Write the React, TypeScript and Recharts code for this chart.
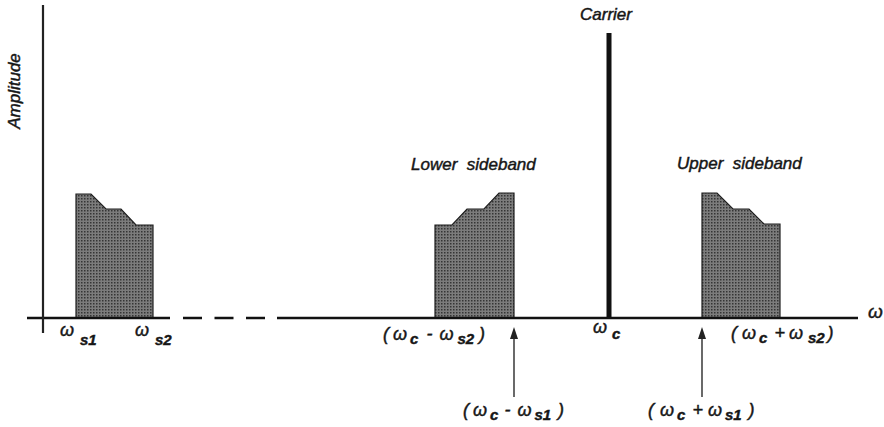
import { Area, ComposedChart, Line, ReferenceLine, Scatter, XAxis, YAxis } from 'recharts'

const W = 884
const H = 427
const FONT = '"Liberation Sans", Arial, Helvetica, sans-serif'
const INK = '#161616'

// frequency / amplitude in the picture's own units
const basebandFreq = [33, 33, 48, 63, 78, 93, 110, 110]
const basebandAmp = [0, 124, 124, 109, 109, 93, 93, 0]
const lowerFreq = [392, 392, 409, 424, 441, 456, 471, 471]
const lowerAmp = [0, 93, 93, 109, 109, 125, 125, 0]
const upperFreq = [659, 659, 674, 690, 706, 721, 737, 737]
const upperAmp = [0, 125, 125, 109, 109, 94, 94, 0]
const carrierFreq = 566
const carrierAmp = 285

// arrows pointing at (wc - ws1) and (wc + ws1)
const arrowFreqs = [471, 659]
const arrowTail = -79
const arrowTip = -9

// axis pieces: solid, broken (dashed), solid
const axisSolidLeft = [-16, 127]
const axisDashed = [140, 222]
const axisSolidRight = [234, 815]
const ampAxis = [-15, 313]

type Part = { t: string; sub?: boolean; dx?: number }

const freqLabels: { x: number; y: number; subDy: number; parts: Part[] }[] = [
  { x: 17, y: -18, subDy: 9, parts: [{ t: 'ω' }, { t: 's1', sub: true, dx: 6 }] },
  { x: 92, y: -18, subDy: 9, parts: [{ t: 'ω' }, { t: 's2', sub: true, dx: 6 }] },
  { x: 550, y: -15, subDy: 6, parts: [{ t: 'ω' }, { t: 'c', sub: true, dx: 5 }] },
  {
    x: 340, y: -22, subDy: 4,
    parts: [{ t: '(' }, { t: 'ω', dx: 4 }, { t: 'c', sub: true, dx: 3 }, { t: '-', dx: 8 }, { t: 'ω', dx: 7 }, { t: 's2', sub: true, dx: 4 }, { t: ')', dx: 5 }],
  },
  {
    x: 688, y: -21, subDy: 4,
    parts: [{ t: '(' }, { t: 'ω', dx: 5 }, { t: 'c', sub: true, dx: 3 }, { t: '+', dx: 7 }, { t: 'ω', dx: 4 }, { t: 's2', sub: true, dx: 5 }, { t: ')', dx: 3 }],
  },
  {
    x: 420, y: -98, subDy: 4,
    parts: [{ t: '(' }, { t: 'ω', dx: 4 }, { t: 'c', sub: true, dx: 3 }, { t: '-', dx: 6 }, { t: 'ω', dx: 7 }, { t: 's1', sub: true, dx: 3 }, { t: ')', dx: 7 }],
  },
  {
    x: 605, y: -98, subDy: 4,
    parts: [{ t: '(' }, { t: 'ω', dx: 6 }, { t: 'c', sub: true, dx: 3 }, { t: '+', dx: 7 }, { t: 'ω', dx: 5 }, { t: 's1', sub: true, dx: 3 }, { t: ')', dx: 7 }],
  },
]

const wordLabels = [
  { x: 537, y: 298, text: 'Carrier', rotate: false },
  { x: 368, y: 148, text: 'Lower  sideband', rotate: false },
  { x: 634, y: 149, text: 'Upper  sideband', rotate: false },
  { x: -23, y: 227, text: 'Amplitude', rotate: true },
]

const omegaAxisLabel = [{ x: 825, y: 0 }]

const toPoints = (xs: number[], ys: number[]) => xs.map((x, i) => ({ x, y: ys[i] }))

const baseband = toPoints(basebandFreq, basebandAmp)
const lowerBand = toPoints(lowerFreq, lowerAmp)
const upperBand = toPoints(upperFreq, upperAmp)
const carrier = toPoints([carrierFreq, carrierFreq], [0, carrierAmp])
const arrowShafts = arrowFreqs.map((f) => toPoints([f, f], [arrowTail, arrowTip - 8]))
const arrowHeads = arrowFreqs.map((f) => ({ x: f, y: arrowTip }))

// a thin outline on the glyphs gives the heavier look of the scanned lettering
const inkProps = { fill: INK, stroke: INK, strokeWidth: 0.45, fontFamily: FONT, fontStyle: 'italic' }

function FreqLabel(props: any) {
  const { cx, cy, payload } = props
  let shifted = false
  return (
    <text x={cx} y={cy} fontSize={18} {...inkProps}>
      {payload.parts.map((p: Part, i: number) => {
        let dy = 0
        if (p.sub && !shifted) {
          dy = payload.subDy
          shifted = true
        } else if (!p.sub && shifted) {
          dy = -payload.subDy
          shifted = false
        }
        return (
          <tspan key={i} dx={p.dx ?? 0} dy={dy} fontSize={p.sub ? 15 : 18} fontWeight={p.sub ? 'bold' : 'normal'}>
            {p.t}
          </tspan>
        )
      })}
    </text>
  )
}

function WordLabel(props: any) {
  const { cx, cy, payload } = props
  return (
    <text
      x={cx}
      y={cy}
      fontSize={17}
      {...inkProps}
      textAnchor={payload.rotate ? 'middle' : 'start'}
      transform={payload.rotate ? `rotate(-90 ${cx} ${cy})` : undefined}
      style={{ whiteSpace: 'pre' }}
    >
      {payload.text}
    </text>
  )
}

function OmegaLabel(props: any) {
  const { cx, cy } = props
  return (
    <text x={cx} y={cy} fontSize={19} {...inkProps}>
      ω
    </text>
  )
}

function ArrowHead(props: any) {
  const { cx, cy } = props
  return <polygon points={`${cx},${cy} ${cx - 4},${cy + 12} ${cx + 4},${cy + 12}`} fill="#222" />
}

const bandProps = {
  type: 'linear' as const,
  dataKey: 'y',
  stroke: '#1e1e1e',
  strokeWidth: 1.2,
  fill: 'url(#halftone)',
  fillOpacity: 1,
  baseValue: 0,
  dot: false,
  activeDot: false,
  isAnimationActive: false,
}

export default function App() {
  return (
    <div style={{ position: 'absolute', left: 0, top: 0, width: W, height: H, background: '#fff' }}>
      <ComposedChart width={W} height={H} margin={{ top: 0, right: 0, bottom: 0, left: 0 }}>
        <defs>
          <pattern id="halftone" width="3" height="3" patternUnits="userSpaceOnUse">
            <rect width="3" height="3" fill="#7c7c7c" />
            <rect width="1.5" height="1.5" fill="#353535" />
          </pattern>
        </defs>
        <XAxis type="number" dataKey="x" domain={[-43, 841]} allowDataOverflow hide />
        <YAxis type="number" dataKey="y" domain={[-109, 318]} allowDataOverflow hide />

        <Area data={baseband} {...bandProps} />
        <Area data={lowerBand} {...bandProps} />
        <Area data={upperBand} {...bandProps} />

        <ReferenceLine segment={[{ x: axisSolidLeft[0], y: 0 }, { x: axisSolidLeft[1], y: 0 }]} stroke="#111" strokeWidth={2.5} ifOverflow="visible" />
        <ReferenceLine segment={[{ x: axisDashed[0], y: 0 }, { x: axisDashed[1], y: 0 }]} stroke="#111" strokeWidth={2.5} strokeDasharray="19 12.5" ifOverflow="visible" />
        <ReferenceLine segment={[{ x: axisSolidRight[0], y: 0 }, { x: axisSolidRight[1], y: 0 }]} stroke="#111" strokeWidth={2.5} ifOverflow="visible" />
        <ReferenceLine segment={[{ x: 0, y: ampAxis[0] }, { x: 0, y: ampAxis[1] }]} stroke="#222" strokeWidth={2.2} ifOverflow="visible" />

        <Line data={carrier} type="linear" dataKey="y" stroke="#111" strokeWidth={5} dot={false} activeDot={false} isAnimationActive={false} />
        {arrowShafts.map((d, i) => (
          <Line key={i} data={d} type="linear" dataKey="y" stroke="#444" strokeWidth={1.6} dot={false} activeDot={false} isAnimationActive={false} />
        ))}
        <Scatter data={arrowHeads} shape={<ArrowHead />} isAnimationActive={false} />

        <Scatter data={freqLabels} shape={<FreqLabel />} isAnimationActive={false} />
        <Scatter data={wordLabels} shape={<WordLabel />} isAnimationActive={false} />
        <Scatter data={omegaAxisLabel} shape={<OmegaLabel />} isAnimationActive={false} />
      </ComposedChart>
    </div>
  )
}
